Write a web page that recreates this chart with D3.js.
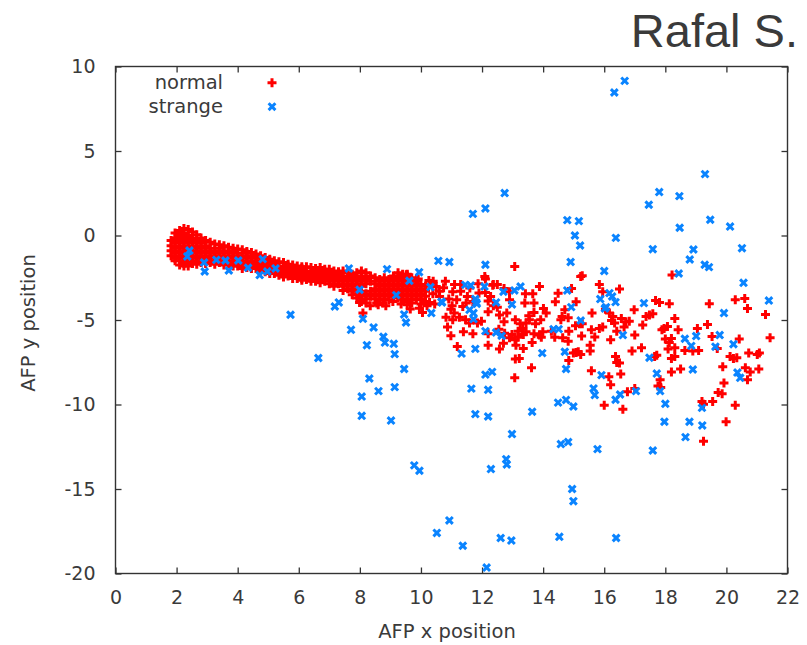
<!DOCTYPE html>
<html lang="en">
<head>
<meta charset="UTF-8">
<title>AFP position</title>
<script src="https://d3js.org/d3.v7.min.js"></script>
<style>
    body { margin: 0; background: #fff; }
    svg { display: block; }
    text { font-family: "DejaVu Sans", sans-serif; fill: #3a3a3a; }
</style>
</head>
<body>
<div id="container"></div>
<script>
// tick values
const xTicks = [0, 2, 4, 6, 8, 10, 12, 14, 16, 18, 20, 22];
const yTicks = [10, 5, 0, -5, -10, -15, -20];

// "normal" points: the dense band, read column by column (x, list of y)
const normalBand = [
    [1.82, [-0.3, -0.6, -0.9, -1.2]],
    [1.95, [0.15, -0.15, -0.45, -0.75, -1.05, -1.35, -1.5]],
    [2.1, [0.3, 0.0, -0.3, -0.6, -0.9, -1.2, -1.5, -1.75]],
    [2.24, [0.42, 0.15, -0.15, -0.45, -0.75, -1.05, -1.35, -1.65, -1.8]],
    [2.38, [0.35, 0.0, -0.3, -0.6, -0.9, -1.2, -1.5, -1.8]],
    [2.52, [0.2, -0.15, -0.45, -0.75, -1.05, -1.35, -1.65]],
    [2.66, [0.05, -0.3, -0.6, -0.9, -1.2, -1.5, -1.7]],
    [2.8, [-0.15, -0.45, -0.75, -1.05, -1.35, -1.6]],
    [2.95, [-0.3, -0.6, -0.9, -1.2, -1.5, -1.65]],
    [3.1, [-0.4, -0.75, -1.05, -1.35, -1.6]],
    [3.25, [-0.5, -0.9, -1.2, -1.5, -1.7]],
    [3.4, [-0.55, -0.75, -1.05, -1.35, -1.6]],
    [3.55, [-0.6, -0.9, -1.2, -1.5, -1.75]],
    [3.7, [-0.7, -1.05, -1.35, -1.65]],
    [3.85, [-0.75, -0.9, -1.2, -1.5, -1.8]],
    [4.0, [-0.8, -1.05, -1.35, -1.65, -1.8]],
    [4.15, [-0.85, -1.2, -1.5, -1.8, -1.95]],
    [4.3, [-0.95, -1.05, -1.35, -1.65, -1.9]],
    [4.45, [-1.0, -1.2, -1.5, -1.8, -1.95]],
    [4.6, [-1.1, -1.35, -1.65, -1.95]],
    [4.75, [-1.2, -1.5, -1.8, -2.1]],
    [4.9, [-1.3, -1.65, -1.95, -2.15]],
    [5.05, [-1.4, -1.5, -1.8, -2.1, -2.25]],
    [5.2, [-1.5, -1.65, -1.95, -2.25]],
    [5.35, [-1.55, -1.8, -2.1, -2.35]],
    [5.5, [-1.6, -1.95, -2.25, -2.45]],
    [5.65, [-1.7, -1.8, -2.1, -2.4]],
    [5.8, [-1.75, -1.95, -2.25, -2.55]],
    [5.95, [-1.8, -2.1, -2.4, -2.55]],
    [6.1, [-1.85, -1.95, -2.25, -2.55, -2.65]],
    [6.25, [-1.85, -2.1, -2.4, -2.6]],
    [6.4, [-1.9, -2.25, -2.55, -2.7]],
    [6.55, [-1.95, -2.1, -2.4, -2.7]],
    [6.7, [-1.9, -2.25, -2.55, -2.8]],
    [6.85, [-2.0, -2.1, -2.4, -2.7]],
    [7.0, [-2.0, -2.25, -2.55, -2.85]],
    [7.15, [-2.1, -2.4, -2.7, -3.0]],
    [7.3, [-2.15, -2.25, -2.55, -2.85]],
    [7.45, [-2.1, -2.4, -2.7, -3.0, -3.25]],
    [7.6, [-2.2, -2.55, -2.85, -3.15]],
    [7.75, [-2.3, -2.4, -2.7, -3.0, -3.3, -3.5]],
    [7.9, [-2.2, -2.55, -2.85, -3.15, -3.45, -3.7]],
    [8.05, [-2.1, -2.4, -2.7, -3.0, -3.3, -3.6, -3.9]],
    [8.2, [-2.2, -2.55, -2.85, -3.45, -3.75, -4.0]],
    [8.35, [-2.4, -2.7, -3.3, -3.6]],
    [8.5, [-2.5, -2.85, -3.15, -3.45, -3.75]],
    [8.65, [-2.6, -2.7, -3.0, -3.3, -3.6, -3.8]],
    [8.8, [-2.5, -2.85, -3.15, -3.45, -3.75]],
    [8.95, [-2.6, -2.7, -3.0, -3.3, -3.6, -3.8]],
    [9.1, [-2.4, -2.55, -2.85, -3.15, -3.45, -3.6]],
    [9.25, [-2.2, -2.4, -2.7, -3.0, -3.3, -3.6, -3.7]],
    [9.4, [-2.3, -2.55, -2.85, -3.15, -3.45, -3.75]],
    [9.55, [-2.3, -2.4, -2.7, -3.0, -3.3, -3.6, -3.9, -4.1]],
    [9.7, [-2.5, -2.85, -3.15, -3.45, -3.75, -4.0]],
    [9.85, [-2.6, -2.7, -3.0, -3.3, -3.6, -3.8]],
    [10.0, [-2.9, -3.15, -3.45, -3.75, -4.05]],
    [10.15, [-3.0, -3.3, -3.6, -3.9]]
];

// "normal" points outside the band
const normalScatter = [
    [8.10,-4.59],[7.99,-3.96],[8.34,-4.16],[8.60,-4.10],[8.75,-4.00],[9.08,-3.90],
    [9.35,-4.05],[9.65,-4.35],[9.95,-4.30],[10.20,-4.15],[10.05,-4.55],[8.55,-4.00],
    [8.85,-4.15],[10.45,-4.05],
    [9.54,-2.31],[9.91,-2.58],[10.26,-2.66],[10.37,-2.86],[10.74,-3.09],[11.04,-3.33],
    [11.17,-3.80],[10.98,-4.36],[10.82,-4.83],[10.87,-5.42],[11.19,-6.57],[11.39,-5.70],
    [11.09,-4.59],[11.26,-4.83],[11.46,-4.99],[11.59,-5.18],[11.37,-4.20],[11.52,-3.61],
    [11.48,-4.00],[11.30,-2.90],[11.98,-5.07],[12.09,-2.43],[12.37,-2.90],[12.20,-4.51],
    [12.11,-3.37],[12.28,-3.61],[12.20,-3.88],[12.37,-4.16],[12.50,-4.24],[12.57,-4.71],
    [12.81,-4.59],[12.72,-5.10],[12.55,-5.54],[12.70,-6.37],[12.20,-6.49],[12.57,-6.72],
    [12.90,-3.80],[13.07,-1.83],[13.42,-3.45],[13.66,-3.45],[13.40,-4.00],[13.70,-4.00],
    [13.88,-3.02],[13.70,-4.56],[13.09,-4.99],[13.25,-5.22],[13.33,-5.50],[13.18,-5.66],
    [13.35,-5.86],[13.08,-6.17],[13.18,-6.02],[13.44,-5.70],[13.64,-6.33],[13.09,-7.31],
    [13.22,-7.28],[13.62,-7.83],[13.07,-8.42],[13.88,-5.89],[13.99,-5.70],[14.01,-4.32],
    [14.10,-4.59],[14.40,-3.92],[14.49,-3.41],[14.58,-4.99],[14.38,-6.02],[14.64,-6.05],
    [14.84,-5.66],[14.27,-5.66],[14.82,-6.25],[14.99,-6.96],[15.15,-6.88],[14.84,-7.40],
    [15.23,-2.43],[15.08,-3.92],[14.71,-4.40],[14.62,-4.79],[15.28,-5.22],[15.06,-5.34],
    [15.26,-5.95],[13.92,-4.99],[13.75,-5.22],[13.94,-6.02],[12.20,-5.82],[11.70,-5.82],
    [12.90,-6.05],[12.98,-5.86],[13.35,-6.68],[13.11,-6.49],[12.50,-2.90],[12.72,-3.14],
    [12.90,-3.33],[13.53,-4.75],[13.55,-4.99],[13.44,-5.18],[10.91,-3.76],[11.02,-4.16],
    [10.39,-3.45],[10.61,-3.61],[10.50,-3.02],[10.28,-3.96],[10.80,-2.70],[11.10,-2.90],
    [10.60,-3.30],[11.30,-3.30],[11.60,-3.10],[10.40,-2.70],[11.90,-3.40],[11.70,-3.90],
    [15.28,-2.38],[15.84,-2.90],[15.95,-3.33],[16.50,-3.17],[18.22,-2.34],[19.44,-4.04],
    [20.29,-3.80],[20.60,-3.73],[20.69,-4.32],[21.28,-4.67],[21.43,-6.05],[17.68,-3.85],
    [17.81,-3.96],[18.13,-4.04],[15.60,-4.59],[15.19,-5.22],[15.58,-5.58],[15.69,-6.01],
    [15.84,-5.50],[15.95,-5.42],[16.04,-4.36],[16.17,-4.59],[16.28,-4.79],[16.24,-5.03],
    [16.56,-4.91],[16.41,-5.66],[16.34,-5.18],[16.71,-5.10],[16.82,-5.07],[16.65,-5.42],
    [16.98,-4.40],[17.26,-5.30],[17.37,-4.79],[17.48,-4.71],[17.59,-4.63],[17.00,-5.89],
    [16.21,-6.17],[15.54,-6.49],[15.54,-6.84],[15.23,-7.04],[16.37,-7.16],[16.41,-7.51],
    [16.91,-6.84],[17.22,-6.64],[17.65,-7.16],[17.72,-7.08],[17.89,-5.58],[17.96,-5.50],
    [18.07,-5.38],[18.31,-4.91],[18.42,-5.58],[18.00,-6.13],[18.13,-6.33],[18.20,-6.09],
    [18.31,-6.64],[18.20,-7.28],[18.31,-7.16],[18.64,-6.80],[19.05,-5.50],[19.38,-5.27],
    [19.09,-6.80],[19.53,-5.98],[19.70,-6.69],[19.88,-7.77],[20.42,-6.13],[20.12,-7.16],
    [20.23,-7.28],[20.34,-7.24],[20.73,-6.96],[21.01,-7.04],[21.08,-6.96],[20.62,-7.83],
    [20.78,-8.07],[20.69,-8.54],[21.06,-7.90],[19.92,-8.73],[19.73,-9.29],[19.86,-9.37],
    [20.29,-10.04],[19.99,-11.02],[19.20,-9.82],[19.25,-9.98],[19.55,-9.82],[18.50,-7.90],
    [18.20,-8.07],[17.83,-8.54],[17.76,-8.90],[17.85,-9.00],[15.58,-8.00],[16.15,-8.36],
    [16.21,-8.83],[16.54,-8.20],[16.76,-9.25],[17.00,-9.05],[16.00,-10.04],[16.61,-10.28],
    [19.25,-12.18],[18.90,-6.84],[18.09,-6.72],[16.50,-7.55],[15.08,-6.92],[14.82,-4.87],
    [13.70,-5.82],[10.98,-5.93],[11.04,-4.99],[11.85,-5.18],[12.74,-5.78],[9.52,-2.34],
    [11.87,-2.86],[12.11,-2.58],[12.35,-2.94],[14.93,-3.14]
];

// "strange" points
const strangePts = [
    [16.33,8.46],[16.67,9.15],[19.30,3.63],[12.74,2.51],[11.70,1.28],[12.11,1.60],
    [17.46,1.82],[17.80,2.57],[18.46,2.33],[14.79,0.91],[15.17,0.85],[15.04,0.00],
    [15.21,-0.59],[16.38,-0.14],[18.47,0.46],[19.47,0.93],[20.12,0.53],[17.59,-0.81],
    [18.92,-0.83],[20.51,-0.75],[18.80,-1.42],[19.29,-1.73],[19.43,-1.87],[18.44,-2.25],
    [20.56,-2.80],[10.57,-1.50],[10.93,-1.57],[12.11,-1.73],[9.94,-2.17],[14.90,-1.57],
    [16.00,-2.10],[9.62,-2.68],[10.31,-3.05],[11.45,-2.92],[11.63,-2.96],[12.08,-3.02],
    [12.70,-3.33],[13.06,-3.25],[13.26,-3.02],[14.79,-3.25],[16.17,-3.41],[21.39,-3.85],
    [15.87,-3.76],[16.26,-3.61],[16.37,-3.94],[16.02,-4.32],[17.30,-4.00],[19.92,-4.59],
    [15.23,-5.03],[16.61,-5.89],[18.64,-6.11],[19.01,-5.95],[18.85,-6.53],[19.78,-5.89],
    [19.64,-6.58],[20.23,-6.43],[17.48,-7.23],[18.90,-7.93],[20.36,-8.11],[20.45,-8.42],
    [15.91,-8.26],[17.72,-8.17],[15.65,-9.05],[15.69,-9.44],[16.37,-9.72],[16.52,-9.41],
    [17.04,-9.21],[17.83,-9.21],[18.00,-9.96],[19.20,-10.20],[17.97,-11.02],[18.79,-11.02],
    [19.21,-11.24],[9.45,-4.67],[9.51,-5.15],[10.34,-4.59],[10.69,-3.96],[11.81,-3.96],
    [11.59,-4.40],[11.72,-4.59],[14.92,-4.24],[16.06,-4.24],[12.11,-5.66],[12.46,-5.74],
    [12.64,-5.93],[11.33,-6.99],[11.78,-6.71],[13.97,-6.96],[14.34,-5.54],[14.51,-5.54],
    [14.71,-6.88],[14.75,-7.90],[9.45,-7.90],[12.11,-8.23],[12.33,-8.07],[11.65,-9.06],
    [12.20,-9.13],[11.78,-10.57],[12.20,-10.71],[13.64,-10.43],[14.49,-9.89],[14.75,-9.73],
    [14.99,-10.12],[12.98,-11.75],[14.58,-12.34],[14.82,-12.22],[15.78,-12.64],[17.59,-12.72],
    [18.66,-11.93],[9.78,-13.60],[9.95,-13.92],[12.29,-13.82],[12.79,-13.23],[12.81,-13.55],
    [14.95,-15.00],[14.99,-15.72],[10.93,-16.86],[10.52,-17.60],[11.37,-18.36],[12.61,-17.90],
    [12.96,-18.05],[14.53,-17.83],[16.39,-17.90],[12.15,-19.65],
    [5.73,-4.69],[6.64,-7.25],[7.18,-4.20],[7.31,-3.96],[7.71,-5.58],[8.10,-4.93],
    [8.45,-5.44],[8.23,-6.49],[8.77,-5.99],[8.82,-6.34],[9.11,-6.41],[9.14,-7.02],
    [8.31,-8.46],[8.61,-9.21],[9.14,-8.97],[8.06,-9.53],[8.06,-10.67],[9.02,-10.95],
    [2.42,-0.89],[2.35,-1.24],[2.90,-1.60],[2.92,-2.13],[3.30,-1.44],[3.60,-1.48],
    [3.71,-2.07],[4.02,-1.48],[4.34,-1.91],[4.82,-1.40],[4.72,-2.34],[4.97,-2.13],
    [5.24,-1.95],[7.64,-1.95],[7.99,-3.21],[8.89,-1.99],[9.19,-3.53],
    [10.67,-3.92],[11.78,-3.76],[11.83,-4.04],[11.72,-4.95],[12.46,-3.96],[12.98,-4.08]
];

const normalPts = normalBand
    .flatMap(([x, ys]) => ys.map(y => [x, y]))
    .concat(normalScatter);

const width = 807, height = 645;
const mLeft = 115.5, mRight = 787.5, mTop = 66.5, mBottom = 573.5;

const svg = d3.select('#container').append('svg')
    .attr('width', width)
    .attr('height', height);

svg.append('rect').attr('width', width).attr('height', height).attr('fill', '#fff');

const x = d3.scaleLinear().domain([0, 22]).range([mLeft, mRight]);
const y = d3.scaleLinear().domain([-20, 10]).range([mBottom, mTop]);

// axes, ticks pointing inwards on all four sides; plain hyphen for negatives
const fmt = d => String(d);
svg.append('g')
    .attr('transform', `translate(0,${mBottom})`)
    .call(d3.axisBottom(x).tickValues(xTicks).tickSizeInner(-6).tickSizeOuter(0).tickPadding(17).tickFormat(fmt));
svg.append('g')
    .attr('transform', `translate(${mLeft},0)`)
    .call(d3.axisLeft(y).tickValues(yTicks).tickSizeInner(-6).tickSizeOuter(0).tickPadding(20).tickFormat(fmt));
svg.append('g')
    .attr('transform', `translate(0,${mTop})`)
    .call(d3.axisTop(x).tickValues(xTicks).tickSizeInner(-6).tickSizeOuter(0).tickFormat(''));
svg.append('g')
    .attr('transform', `translate(${mRight},0)`)
    .call(d3.axisRight(y).tickValues(yTicks).tickSizeInner(-6).tickSizeOuter(0).tickFormat(''));

svg.selectAll('.domain').remove();
svg.selectAll('.tick line').attr('stroke', '#333').attr('stroke-width', 1.3);
svg.selectAll('.tick text')
    .attr('font-family', '"DejaVu Sans", sans-serif')
    .attr('font-size', 19)
    .attr('fill', '#3a3a3a');

// frame
svg.append('rect')
    .attr('x', mLeft).attr('y', mTop)
    .attr('width', mRight - mLeft).attr('height', mBottom - mTop)
    .attr('fill', 'none')
    .attr('stroke', '#333')
    .attr('stroke-width', 1.4);

// markers
const plusPath = 'M-4.5,0H4.5M0,-4.5V4.5';
const timesPath = 'M-3.4,-3.4L3.4,3.4M-3.4,3.4L3.4,-3.4';
const red = '#ff0000', blue = '#0a84ff';

svg.append('g').selectAll('path')
    .data(normalPts)
    .enter()
    .append('path')
    .attr('d', plusPath)
    .attr('transform', d => `translate(${x(d[0])},${y(d[1])})`)
    .attr('stroke', red)
    .attr('stroke-width', 3)
    .attr('fill', 'none');

svg.append('g').selectAll('path')
    .data(strangePts)
    .enter()
    .append('path')
    .attr('d', timesPath)
    .attr('transform', d => `translate(${x(d[0])},${y(d[1])})`)
    .attr('stroke', blue)
    .attr('stroke-width', 3)
    .attr('fill', 'none');

// legend
const legend = [
    {label: 'normal', path: plusPath, color: red, ty: 89, my: 82.7},
    {label: 'strange', path: timesPath, color: blue, ty: 113, my: 106.7}
];
legend.forEach(l => {
    svg.append('text')
        .attr('x', 223).attr('y', l.ty)
        .attr('text-anchor', 'end')
        .attr('font-size', 19.5)
        .text(l.label);
    svg.append('path')
        .attr('d', l.path)
        .attr('transform', `translate(272,${l.my})`)
        .attr('stroke', l.color)
        .attr('stroke-width', 3)
        .attr('fill', 'none');
});

// axis labels
svg.append('text')
    .attr('x', 447).attr('y', 638)
    .attr('text-anchor', 'middle')
    .attr('font-size', 19.5)
    .text('AFP x position');

svg.append('text')
    .attr('transform', 'translate(35,323) rotate(-90)')
    .attr('text-anchor', 'middle')
    .attr('font-size', 19.5)
    .text('AFP y position');

// title
svg.append('text')
    .attr('x', 798).attr('y', 47)
    .attr('text-anchor', 'end')
    .attr('font-size', 47)
    .attr('fill', '#404040')
    .style('font-family', '"Liberation Sans", Arial, sans-serif')
    .text('Rafal S.');
</script>
</body>
</html>
